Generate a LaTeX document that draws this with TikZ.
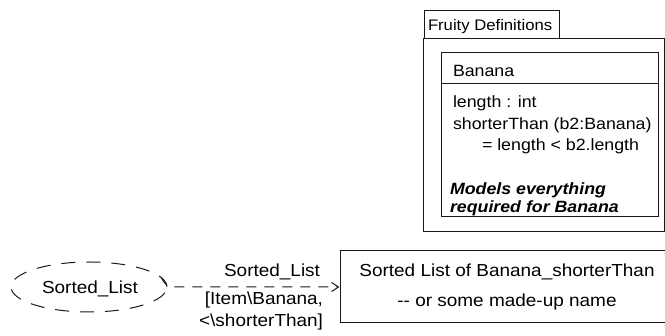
\documentclass[tikz,border=0pt]{standalone}
\usepackage{fontspec}
\setmainfont{Liberation Sans}[FakeStretch=1.09]
\usetikzlibrary{arrows.meta,shapes.geometric,calc}
\tikzset{
  ln/.style={line width=1pt, draw=black!90},
  txt/.style={inner sep=0pt, outer sep=0pt, font=\fontsize{16.3}{19}\selectfont},
  tabtxt/.style={inner sep=0pt, outer sep=0pt, font=\fontsize{15.3}{18}\selectfont},
  bigtxt/.style={inner sep=0pt, outer sep=0pt, font=\fontsize{17.4}{20}\selectfont},
  dsh/.style={dash pattern=on 10pt off 8pt},
  edsh/.style={dash pattern=on 14pt off 11pt},
}
\begin{document}
\begin{tikzpicture}[x=1pt,y=-1pt]
\useasboundingbox (0,0) rectangle (665,336);
% package
\node[ln, draw, rectangle, inner sep=0pt, minimum width=135pt, minimum height=28pt] (tab) at (491.5,25) {};
\node[ln, draw, rectangle, inner sep=0pt, minimum width=241pt, minimum height=193pt] (pkg) at (543.5,135.5) {};
\node[tabtxt, anchor=base west] (tabt) at (428,31) {Fruity Definitions};
% class
\node[ln, draw, rectangle, inner sep=0pt, minimum width=217pt, minimum height=164pt] (cls) at (549.5,135) {};
\draw[ln] ($(cls.north west)+(0,31)$) -- ($(cls.north east)+(0,31)$);
\node[txt, anchor=base west] (cname) at (453,77) {Banana};
\node[txt, anchor=base west] (a1) at (453,108) {length : int};
\node[txt, anchor=base west] (a2) at (453,130) {shorterThan (b2:Banana)};
\node[txt, anchor=base west] (a3) at (482,151) {= length < b2.length};
\node[txt, anchor=base west, font=\fontsize{16.3}{19}\selectfont\bfseries\itshape] (n1) at (450,195) {Models everything};
\node[txt, anchor=base west, font=\fontsize{16.3}{19}\selectfont\bfseries\itshape] (n2) at (450,213) {required for Banana};
% bottom
\node[ln, draw, edsh, ellipse, inner sep=0pt, minimum width=156pt, minimum height=50pt] (ell) at (89,287) {};
\node[bigtxt, anchor=base] (elt) at (90,294) {Sorted\_List};
\node[ln, draw, rectangle, inner sep=0pt, minimum width=325.5pt, minimum height=72pt] (box) at (502.75,287) {};
\node[bigtxt, anchor=base] (b1) at (507,277) {Sorted List of Banana\_shorterThan};
\node[bigtxt, anchor=base] (b2) at (507,307) {-{}- or some made-up name};
\coordinate (hk) at (172,287);
\draw[ln, dsh, -{Straight Barb[length=7pt,width=9pt,line width=1pt]}] (ell.8) .. controls +(3,7) and +(-4,0) .. (hk) -- (box.west);
\node[bigtxt, anchor=base east] (l1) at (320,277) {Sorted\_List};
\node[bigtxt, anchor=base east] (l2) at (323,305) {[Item\textbackslash Banana,};
\node[bigtxt, anchor=base east] (l3) at (323,327) {<\textbackslash shorterThan]};
\end{tikzpicture}
\end{document}
